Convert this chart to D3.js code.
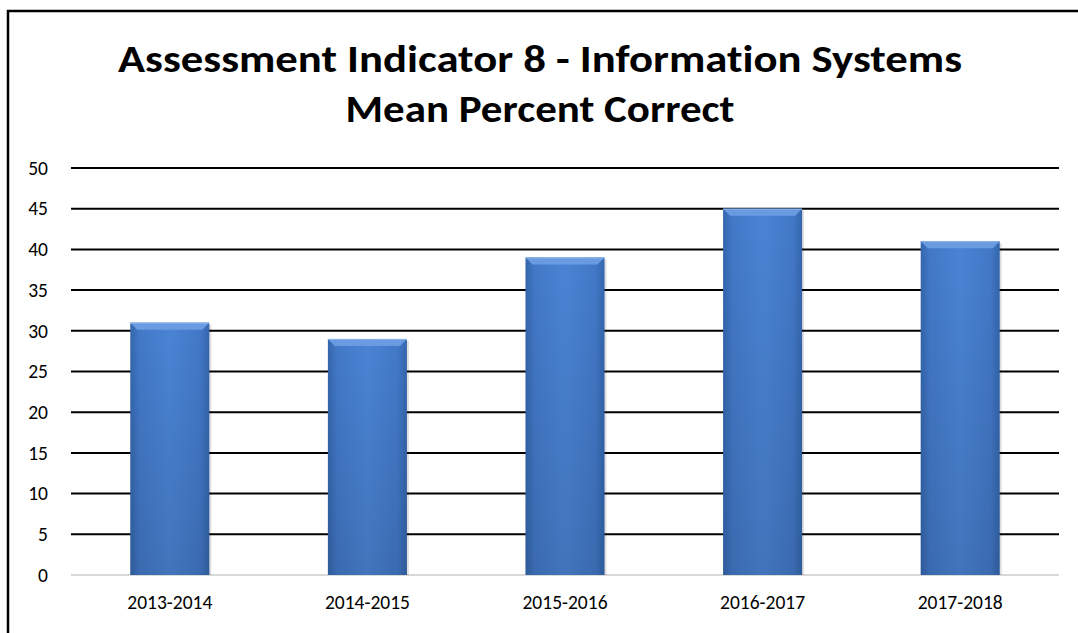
<!DOCTYPE html>
<html>
<head>
<meta charset="utf-8">
<script src="https://cdn.jsdelivr.net/npm/d3@7"></script>
<style>
	body { margin: 0; background: #fff; }
	text { font-family: Carlito, "Open Sans", "Liberation Sans", sans-serif; font-variant-ligatures: none; }
</style>
</head>
<body>
<script>
// chart data
var years = ['2013-2014', '2014-2015', '2015-2016', '2016-2017', '2017-2018'];
var meanPct = [31, 29, 39, 45, 41];
var yTicks = [0, 5, 10, 15, 20, 25, 30, 35, 40, 45, 50];
var titleLines = ['Assessment Indicator 8 - Information Systems', 'Mean Percent Correct'];

var width = 1078, height = 633,
	plotL = 71, plotR = 1059, plotT = 168, plotB = 575;

var svg = d3.select('body').append('svg')
	.attr('width', width)
	.attr('height', height);

var defs = svg.append('defs');
var grad = defs.append('linearGradient').attr('id', 'barGrad')
	.attr('x1', 0).attr('x2', 1).attr('y1', 0).attr('y2', 0);
grad.append('stop').attr('offset', '0%').attr('stop-color', '#3466ad');
grad.append('stop').attr('offset', '12%').attr('stop-color', '#4279c8');
grad.append('stop').attr('offset', '50%').attr('stop-color', '#4a84d4');
grad.append('stop').attr('offset', '88%').attr('stop-color', '#4279c8');
grad.append('stop').attr('offset', '100%').attr('stop-color', '#3466ad');
var vgrad = defs.append('linearGradient').attr('id', 'barShade')
	.attr('x1', 0).attr('x2', 0).attr('y1', 0).attr('y2', 1);
vgrad.append('stop').attr('offset', '0%').attr('stop-color', '#000').attr('stop-opacity', 0);
vgrad.append('stop').attr('offset', '100%').attr('stop-color', '#000').attr('stop-opacity', 0.12);

// outer border
svg.append('rect')
	.attr('x', 8).attr('y', 11)
	.attr('width', 1100).attr('height', 700)
	.attr('fill', 'none').attr('stroke', '#000').attr('stroke-width', 2.5);

// title
svg.append('g').selectAll('text')
	.data(titleLines)
	.join('text')
	.attr('x', 540)
	.attr('y', function(d, i) { return 72 + i * 50; })
	.attr('text-anchor', 'middle')
	.attr('font-size', 39)
	.attr('font-weight', 'bold')
	.attr('fill', '#000')
	.attr('textLength', function(d, i) { return i === 0 ? 844 : 389; })
	.attr('lengthAdjust', 'spacingAndGlyphs')
	.text(function(d) { return d; });

var x = d3.scaleBand().domain(years).range([plotL, plotR]).paddingInner(0.6).paddingOuter(0.3);
var y = d3.scaleLinear().domain([0, 50]).range([plotB, plotT]);

// gridlines
svg.append('g').selectAll('line')
	.data(yTicks.filter(function(d) { return d > 0; }))
	.join('line')
	.attr('x1', plotL).attr('x2', plotR)
	.attr('y1', function(d) { return y(d); })
	.attr('y2', function(d) { return y(d); })
	.attr('stroke', '#000').attr('stroke-width', 2);

// baseline
svg.append('line')
	.attr('x1', plotL).attr('x2', plotR)
	.attr('y1', y(0)).attr('y2', y(0))
	.attr('stroke', '#d9d9d9').attr('stroke-width', 2);

// y axis labels
var yAxis = svg.append('g')
	.attr('transform', 'translate(' + (plotL - 23) + ',0)')
	.call(d3.axisLeft(y).tickValues(yTicks).tickSize(0).tickPadding(0));
yAxis.select('.domain').remove();
yAxis.selectAll('text').attr('font-size', 19.5).attr('fill', '#000')
	.attr('font-family', 'Carlito, "Open Sans", sans-serif');

// x axis labels
var xAxis = svg.append('g')
	.attr('transform', 'translate(0,' + (plotB + 20) + ')')
	.call(d3.axisBottom(x).tickSize(0).tickPadding(0));
xAxis.select('.domain').remove();
xAxis.selectAll('text').attr('font-size', 19.5).attr('fill', '#000')
	.attr('font-family', 'Carlito, "Open Sans", sans-serif');

// bars
var bars = svg.append('g').selectAll('g')
	.data(years)
	.join('g');

bars.append('rect')
	.attr('x', function(d) { return x(d) + 2; })
	.attr('y', function(d, i) { return y(meanPct[i]) + 2; })
	.attr('width', x.bandwidth())
	.attr('height', function(d, i) { return y(0) - y(meanPct[i]) - 2; })
	.attr('fill', '#000').attr('opacity', 0.12);

bars.append('rect')
	.attr('x', function(d) { return x(d); })
	.attr('y', function(d, i) { return y(meanPct[i]); })
	.attr('width', x.bandwidth())
	.attr('height', function(d, i) { return y(0) - y(meanPct[i]); })
	.attr('fill', 'url(#barGrad)');

bars.append('rect')
	.attr('x', function(d) { return x(d); })
	.attr('y', function(d, i) { return y(meanPct[i]); })
	.attr('width', x.bandwidth())
	.attr('height', function(d, i) { return y(0) - y(meanPct[i]); })
	.attr('fill', 'url(#barShade)');

// top bevel
var bw = x.bandwidth(), bev = 7;
bars.append('path')
	.attr('d', function(d, i) {
		var x0 = x(d), y0 = y(meanPct[i]);
		return 'M' + x0 + ',' + y0 + 'L' + (x0 + bw) + ',' + y0 +
			'L' + (x0 + bw - bev) + ',' + (y0 + bev) + 'L' + (x0 + bev) + ',' + (y0 + bev) + 'Z';
	})
	.attr('fill', '#6a9be0');
bars.append('line')
	.attr('x1', function(d) { return x(d); })
	.attr('x2', function(d) { return x(d) + bw; })
	.attr('y1', function(d, i) { return y(meanPct[i]) + 0.5; })
	.attr('y2', function(d, i) { return y(meanPct[i]) + 0.5; })
	.attr('stroke', '#8ab3ea').attr('stroke-width', 1);
</script>
</body>
</html>
